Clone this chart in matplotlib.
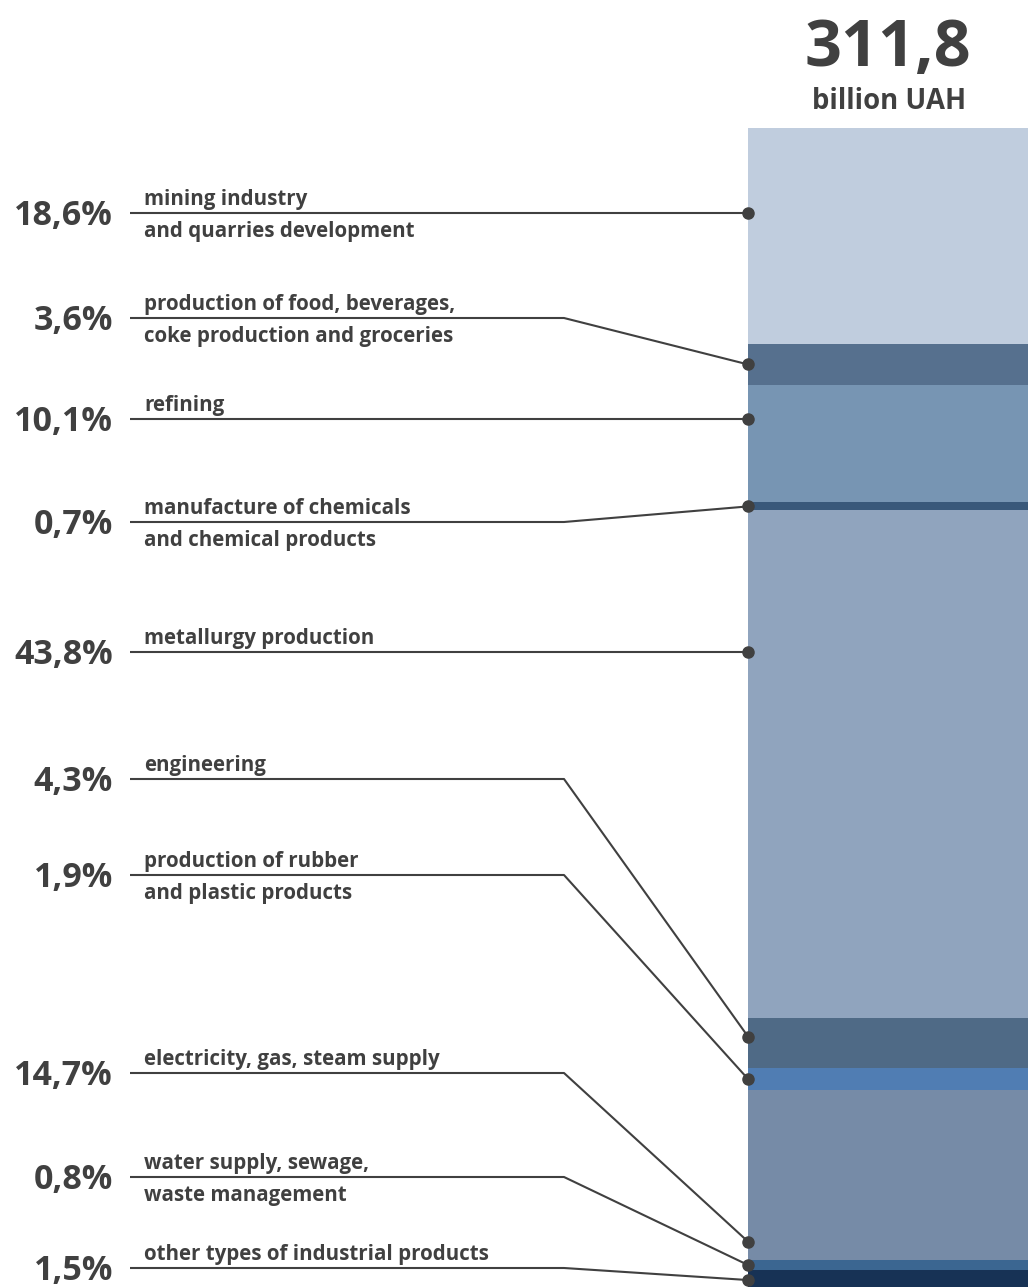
import matplotlib.pyplot as plt

# ── Data ────────────────────────────────────────────────────────────
total_value = 311.8
total_unit = "billion UAH"

categories = [
    "mining industry\nand quarries development",
    "production of food, beverages,\ncoke production and groceries",
    "refining",
    "manufacture of chemicals\nand chemical products",
    "metallurgy production",
    "engineering",
    "production of rubber\nand plastic products",
    "electricity, gas, steam supply",
    "water supply, sewage,\nwaste management",
    "other types of industrial products",
]
shares = [18.6, 3.6, 10.1, 0.7, 43.8, 4.3, 1.9, 14.7, 0.8, 1.5]

colors = ["#c0cdde", "#56708e", "#7795b3", "#39587a", "#90a4be",
          "#4f6a86", "#507db3", "#768ba7", "#3b6691", "#173255"]

# ── Layout (pixels) ────────────────────────────────────────────────
W, H = 1028, 1287
BAR_X, BAR_W = 748, 280
BAR_TOP, BAR_BOTTOM = 128, 1287
row_y = [213, 318, 419, 522, 652, 779, 875, 1073, 1177, 1268]
# where the dot sits inside its segment when the label row is outside it
dot_frac = [0.5, 0.5, 0.5, 0.5, 0.5, 0.37, 0.5, 0.89, 0.5, 0.6]
LINE_X0, BEND_X = 130, 564
TXT = "#404040"
FONT = "Open Sans"

def to_px(pct):
    return BAR_TOP + pct * (BAR_BOTTOM - BAR_TOP) / 100.0

fig = plt.figure(figsize=(W / 100, H / 100), dpi=100)
ax = fig.add_axes([0, 0, 1, 1])
ax.set_xlim(0, W)
ax.set_ylim(H, 0)
ax.axis("off")

# stacked bar
cum = 0.0
for share, col in zip(shares, colors):
    top = to_px(cum)
    ax.bar(BAR_X, to_px(cum + share) - top, bottom=top, width=BAR_W,
           align="edge", color=col, linewidth=0)
    cum += share

# labels and leader lines
cum = 0.0
for cat, share, y, f in zip(categories, shares, row_y, dot_frac):
    seg_top, seg_bot = to_px(cum), to_px(cum + share)
    if seg_top + 4 <= y <= seg_bot - 4:
        dot_y = y
    else:
        dot_y = seg_top + f * (seg_bot - seg_top)
    cum += share

    ax.plot([LINE_X0, BEND_X, BAR_X], [y, y, dot_y], color=TXT, lw=1.5,
            solid_capstyle="butt", zorder=3)
    ax.plot(BAR_X, dot_y, "o", color=TXT, ms=8, zorder=4)

    pct = f"{share:.1f}".replace(".", ",") + "%"
    ax.text(113, y + 3, pct, ha="right", va="center", fontsize=24.5,
            fontweight="bold", color=TXT, family=FONT)

    lines = cat.split("\n")
    ax.text(144, y - 8, lines[0], ha="left", va="baseline", fontsize=14.8,
            fontweight="bold", color=TXT, family=FONT)
    if len(lines) > 1:
        ax.text(144, y + 24, lines[1], ha="left", va="baseline", fontsize=14.8,
                fontweight="bold", color=TXT, family=FONT)

# total
ax.text(888, 66, f"{total_value:.1f}".replace(".", ","), ha="center",
        va="baseline", fontsize=46.5, fontweight="bold", color=TXT, family=FONT)
ax.text(889, 109, total_unit, ha="center", va="baseline", fontsize=19.8,
        fontweight="bold", color=TXT, family=FONT)

fig.savefig("out.png", dpi=100)
